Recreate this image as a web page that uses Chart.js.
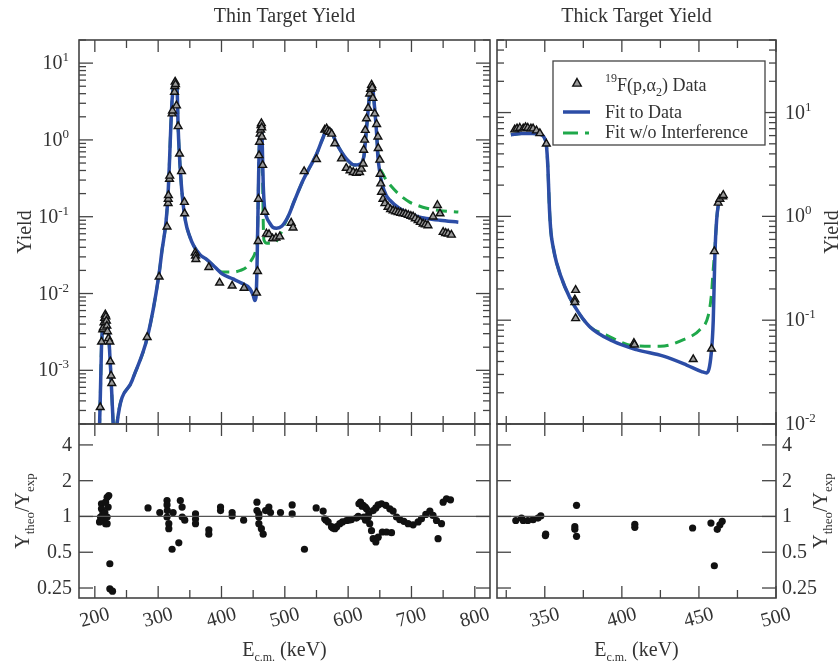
<!DOCTYPE html>
<html>
<head>
<meta charset="utf-8">
<script src="https://cdn.jsdelivr.net/npm/chart.js@4.4.1/dist/chart.umd.min.js"></script>
<style>
  body { margin: 0; background: #fff; }
  .wrap { position: relative; width: 839px; height: 666px; }
  canvas { position: absolute; left: 0; top: 0; }
</style>
</head>
<body>
<div class="wrap">
  <canvas id="thinYield" width="839" height="666"></canvas>
  <canvas id="thinRatio" width="839" height="666"></canvas>
  <canvas id="thickYield" width="839" height="666"></canvas>
  <canvas id="thickRatio" width="839" height="666"></canvas>
</div>
<script>
// ---- thin target: measured yield (triangles) ----
const thinDataE = [
  208.5, 210.6, 212.5, 213.5, 214.5, 215.5, 216.5, 217.5, 218.3, 219, 220, 221.5, 223.7, 224.5, 225.7, 226.8,
  282.6, 301.5, 314, 315.7, 315.9, 316.2, 317.9, 318.3, 322, 322.6, 325.8, 326.3, 326.8, 327.4, 328.9, 331.5, 333.7, 336.9, 341.5, 341.8,
  358.5, 359, 359.5, 380, 397, 416.8, 435.7, 455.3, 456.9, 457.9,
  458.3, 459.3, 460, 461, 461.8, 462.5, 463, 463.5, 463.8, 465, 468.4, 471, 475, 480.6, 486, 492, 510, 513,
  530.5, 550, 563, 566, 568, 571, 574, 579, 589.5, 597, 603, 608, 613, 618, 621,
  623.7, 624.5, 626, 627, 629, 631.6, 634, 635.5, 637, 638, 639, 642, 645, 647, 647.5, 650, 650.5, 651.5, 652.7, 655, 658,
  663, 667, 671, 675, 679, 683, 687, 691, 695, 699, 702.6, 706, 710.5, 714, 718.4, 722, 726, 734, 741, 745, 750, 754, 758, 763
];
const thinDataY = [
  3.3e-4, 2.35e-3, 3.4e-3, 3.6e-3, 4.2e-3, 4.8e-3, 5.3e-3, 5.0e-3, 4.4e-3, 3.8e-3, 3.2e-3, 2.6e-3, 2.35e-3, 1.3e-3, 8.5e-4, 6.8e-4,
  2.7e-3, 0.0165, 0.074, 0.15, 0.17, 0.19, 0.31, 0.34, 2.2, 2.4, 4.2, 5.0, 5.7, 5.3, 2.8, 1.5, 0.66, 0.39, 0.155, 0.11,
  0.034, 0.031, 0.028, 0.022, 0.0138, 0.0126, 0.0118, 0.0102, 0.0195, 0.048,
  0.17, 0.63, 0.94, 1.2, 1.35, 1.55, 1.64, 1.45, 1.1, 0.47, 0.115, 0.06, 0.059, 0.052, 0.053, 0.055, 0.083, 0.072,
  0.39, 0.56, 1.35, 1.4, 1.3, 1.27, 1.2, 0.9, 0.57, 0.43, 0.4, 0.38, 0.37, 0.38, 0.42,
  0.49, 0.74, 1.0, 1.34, 1.9, 2.6, 4.0, 4.6, 5.2, 4.8, 3.5, 2.2, 1.6, 1.1, 0.78, 0.55, 0.36, 0.27, 0.21, 0.17, 0.149,
  0.134, 0.125, 0.12, 0.117, 0.114, 0.112, 0.11, 0.108, 0.105, 0.102, 0.1, 0.095, 0.09, 0.085, 0.081, 0.079, 0.077, 0.1, 0.141, 0.11, 0.063, 0.061, 0.06, 0.058
];

// ---- thin target: fit to data (blue) ----
const thinFitE = [
  204, 207.5, 209, 210.5, 212.5, 215, 217, 219, 221, 223, 225, 227, 229, 231, 233, 235, 259, 283,
  301, 306, 312.6, 315.7, 318, 320, 322, 324.7, 326.3, 328, 330, 331.5, 334, 337.8, 343, 350, 356, 366, 376,
  390, 401, 418, 429, 445, 450, 452.6, 454.5, 456, 457.5, 459, 460.5, 462, 463.5, 464.5, 466, 468, 471, 476, 481, 487, 495,
  505, 515, 529, 540, 550, 560, 567, 572, 581.6, 597, 610,
  618, 625, 627, 629, 631.5, 634, 636.5, 638, 639.5, 642, 645, 647, 650, 653, 660, 666, 680, 692, 710, 723.6, 745, 774
];
const thinFitY = [
  1e-4, 2e-4, 6e-4, 2e-3, 3.8e-3, 5e-3, 5.5e-3, 5e-3, 3.6e-3, 2e-3, 1e-3, 4.5e-4, 2e-4, 1e-4, 1.2e-4, 2e-4, 7.4e-4, 2.7e-3,
  0.017, 0.036, 0.089, 0.2, 0.55, 1.5, 3.3, 5.4, 5.9, 5.5, 4.4, 1.5, 0.55, 0.2, 0.089, 0.055, 0.042, 0.032, 0.028,
  0.022, 0.018, 0.0155, 0.014, 0.0115, 0.0095, 0.0081, 0.009, 0.02, 0.1, 0.5, 1.2, 1.6, 1.5, 0.8, 0.25, 0.13, 0.1, 0.083, 0.073, 0.071, 0.075,
  0.1, 0.16, 0.3, 0.45, 0.65, 1.05, 1.4, 1.35, 0.9, 0.57, 0.47,
  0.48, 0.62, 0.9, 1.4, 2.4, 4.0, 5.1, 5.0, 4.2, 2.5, 1.2, 0.6, 0.38, 0.28, 0.19, 0.164, 0.13, 0.114, 0.1, 0.095, 0.09, 0.085
];

// ---- thin target: fit without interference (green) ----
const thinNoIntE = [
  204, 207.5, 209, 210.5, 212.5, 215, 217, 219, 221, 223, 225, 227, 229, 231, 233, 235, 259, 283,
  301, 306, 312.6, 315.7, 318, 320, 322, 324.7, 326.3, 328, 330, 331.5, 334, 337.8, 343, 350, 356, 366, 376,
  390, 401, 418, 430, 439.5, 447, 454, 456.5, 457.5, 459, 460.5, 462, 463.5, 464.5, 466, 467, 472, 480, 490, 495,
  505, 515, 529, 540, 550, 560, 567, 572, 581.6, 597, 610,
  618, 625, 627, 629, 631.5, 634, 636.5, 638, 639.5, 642, 645, 647, 650, 655, 660, 666, 679, 697, 710, 724, 745, 774
];
const thinNoIntY = [
  1e-4, 2e-4, 6e-4, 2e-3, 3.8e-3, 5e-3, 5.5e-3, 5e-3, 3.6e-3, 2e-3, 1e-3, 4.5e-4, 2e-4, 1e-4, 1.3e-4, 2.1e-4, 7.4e-4, 2.7e-3,
  0.017, 0.036, 0.089, 0.2, 0.55, 1.5, 3.3, 5.4, 5.9, 5.5, 4.4, 1.5, 0.55, 0.2, 0.089, 0.055, 0.042, 0.032, 0.028,
  0.022, 0.019, 0.019, 0.02, 0.022, 0.027, 0.036, 0.05, 0.1, 0.5, 1.2, 1.6, 1.5, 0.6, 0.08, 0.05, 0.045, 0.045, 0.052, 0.065,
  0.1, 0.16, 0.3, 0.45, 0.65, 1.05, 1.4, 1.35, 0.9, 0.57, 0.47,
  0.48, 0.62, 0.9, 1.4, 2.4, 4.0, 5.1, 5.0, 4.2, 2.5, 1.2, 0.7, 0.45, 0.36, 0.3, 0.26, 0.2, 0.155, 0.14, 0.129, 0.12, 0.115
];

// ---- thin target: Y_theo / Y_exp ----
const thinRatioE = [
  207.4, 209, 210.5, 210.5, 212.6, 214, 215.8, 217, 217, 219.4,
  219.4, 219.4, 221, 222, 223.7, 223.7, 227.9,
  284, 302.6, 314, 314, 314.5, 314, 316.8, 316.8, 322, 323.6,
  332.6, 335, 337.8, 338, 342, 359, 359, 359, 380, 380,
  398.5, 398.5, 416.8, 416.8, 435, 456, 456, 459, 459, 459,
  463, 465.8, 469.6, 474.8, 477.4, 493.2, 511.6, 511.6, 531, 549.5,
  560.5, 563, 565, 568.4, 573.7, 576, 579, 582, 586.8, 591,
  597.4, 601, 605, 613, 616, 619.5, 623.7, 627, 629, 631.6,
  632.5, 634, 636.9, 639.5, 643.7, 647.4, 654, 660.6, 668.5, 639.5,
  643.7, 647.4, 652.7, 659.5, 665.8, 671, 676.4, 681.6, 688, 694.7,
  702.6, 710.5, 715.8, 722.6, 729, 734, 739.5, 742, 747.4, 750,
  755.3, 761.6,
  617, 622, 625, 627.4
];
const thinRatioR = [
  0.9, 0.99, 1.28, 1.16, 1.05, 0.93, 1.08, 1.32, 0.87, 1.45,
  0.99, 0.87, 1.2, 1.5, 0.4, 0.246, 0.235,
  1.18, 1.08, 1.36, 1.25, 1.12, 0.99, 0.87, 0.79, 0.53, 1.08,
  0.6, 1.36, 1.2, 0.99, 0.93, 1.05, 0.95, 0.87, 0.77, 0.71,
  1.2, 1.12, 1.08, 1.01, 0.93, 1.32, 1.12, 1.05, 0.99, 0.87,
  0.79, 0.71, 1.12, 1.2, 1.08, 1.08, 1.25, 1.05, 0.53, 1.18,
  1.11, 0.956, 0.93, 0.9, 0.82, 0.8, 0.79, 0.82, 0.87, 0.9,
  0.925, 0.93, 0.94, 0.97, 1.0, 1.32, 1.24, 1.2, 1.16, 0.99,
  1.05, 0.87, 0.76, 0.65, 0.61, 0.67, 0.74, 0.74, 0.73, 1.12,
  1.18, 1.25, 1.28, 1.24, 1.16, 1.11, 0.99, 0.94, 0.91, 0.87,
  0.85, 0.9, 0.956, 1.04, 1.11, 1.02, 0.925, 0.65, 0.87, 1.32,
  1.41, 1.38,
  1.28, 1.22, 0.99, 0.93
];

// ---- thick target ----
const thickDataE = [330.5, 332, 333.8, 336, 337.5, 339, 341, 342.4, 344.6, 346.8, 351,
  369.5, 369.5, 370, 370, 407.8, 408.2, 446.3, 458.2, 460, 462.5, 463.6, 465.4, 465.8];
const thickDataY = [6.85, 7.0, 7.1, 7.0, 7.2, 7.1, 7.0, 7.0, 6.7, 6.3, 5.0,
  0.158, 0.149, 0.195, 0.104, 0.06, 0.058, 0.042, 0.053, 0.46, 1.35, 1.47, 1.55, 1.6];

const thickFitE = [328, 335, 342, 348, 350, 351, 352, 353, 354, 355.5, 357.6, 363, 369.5, 379,
  394, 409.5, 427, 442, 451.7, 455, 458, 459.3, 460.4, 461.5, 462.5, 463.6, 467];
const thickFitY = [6.1, 6.3, 6.3, 6.1, 5.6, 4.9, 3.0, 1.2, 0.7, 0.5, 0.36, 0.21, 0.135, 0.087,
  0.063, 0.052, 0.045, 0.037, 0.032, 0.031, 0.048, 0.1, 0.45, 0.93, 1.26, 1.45, 1.55];

const thickNoIntE = [328, 335, 342, 348, 350, 351, 352, 353, 354, 355.5, 357.6, 363, 369.5, 379,
  390, 407, 425, 440, 450.6, 456, 458, 459.3, 460.4, 461.5, 462.5, 463.6, 467];
const thickNoIntY = [6.1, 6.3, 6.3, 6.1, 5.6, 4.9, 3.0, 1.2, 0.7, 0.5, 0.36, 0.21, 0.135, 0.087,
  0.072, 0.057, 0.056, 0.065, 0.081, 0.11, 0.17, 0.31, 0.5, 0.93, 1.26, 1.45, 1.55];

const thickRatioE = [331.2, 334.9, 336, 339, 342.4, 345.6, 347.4, 350.4, 350.6, 370.6, 369.5,
  369.5, 370.6, 408.4, 408.4, 445.9, 457.8, 460, 461.9, 463.6, 465.1];
const thickRatioR = [0.925, 0.97, 0.925, 0.925, 0.94, 0.97, 1.01, 0.69, 0.71, 1.24, 0.82,
  0.78, 0.68, 0.86, 0.81, 0.80, 0.88, 0.385, 0.78, 0.85, 0.91];

// ---- axis ticks ----
const thinTicks = [200, 300, 400, 500, 600, 700, 800];
const thinMinor = [250, 350, 450, 550, 650, 750];
const thickTicks = [350, 400, 450, 500];
const thickMinor = [325, 375, 425, 475];
const thinDecades = [1e-4, 1e-3, 1e-2, 1e-1, 1, 10];
const thickDecades = [1e-2, 1e-1, 1, 10];
const ratioTicks = [0.25, 0.5, 1, 2, 4];

const W = 839, H = 666;
const FONT = '"Liberation Serif", "Times New Roman", "DejaVu Serif", serif';
const INK = '#333';
const BLUE = '#2c4da6';
const GREEN = '#1fa84a';

const pts = (xs, ys) => xs.map((x, i) => ({ x: x, y: ys[i] }));
const minorOf = decs => decs.flatMap(d => [2, 3, 4, 5, 6, 7, 8, 9].map(m => d * m));

// draw a run of text pieces: [text, size, dy]
function drawRuns(ctx, runs, x, y, align) {
  let total = 0;
  runs.forEach(r => { ctx.font = r[1] + 'px ' + FONT; total += ctx.measureText(r[0]).width; });
  let cx = align === 'right' ? x - total : align === 'center' ? x - total / 2 : x;
  ctx.textAlign = 'left';
  ctx.textBaseline = 'alphabetic';
  runs.forEach(r => {
    ctx.font = r[1] + 'px ' + FONT;
    ctx.fillText(r[0], cx, y + (r[2] || 0));
    cx += ctx.measureText(r[0]).width;
  });
}

function drawTri(ctx, x, y, r) {
  ctx.beginPath();
  ctx.moveTo(x, y - r);
  ctx.lineTo(x + r * 0.95, y + r * 0.7);
  ctx.lineTo(x - r * 0.95, y + r * 0.7);
  ctx.closePath();
  ctx.fillStyle = '#9a9a9a';
  ctx.fill();
  ctx.strokeStyle = '#111';
  ctx.lineWidth = 1.4;
  ctx.stroke();
}

// frame, inward ticks, labels and legend
const frame = {
  id: 'frame',
  afterDatasetsDraw(chart, args, o) {
    const ctx = chart.ctx, a = chart.chartArea;
    const xs = chart.scales.x, ys = chart.scales.y;
    const seg = (x1, y1, x2, y2) => { ctx.beginPath(); ctx.moveTo(x1, y1); ctx.lineTo(x2, y2); ctx.stroke(); };
    const inX = v => v >= xs.min && v <= xs.max;
    const inY = v => v >= ys.min && v <= ys.max;
    ctx.save();

    if (o.refLine) {
      const py = ys.getPixelForValue(o.refLine);
      ctx.strokeStyle = '#555';
      ctx.lineWidth = 1.2;
      seg(a.left, py, a.right, py);
    }

    ctx.strokeStyle = '#444';
    ctx.lineWidth = 1.3;
    o.xMajor.filter(inX).forEach(v => { const p = xs.getPixelForValue(v); seg(p, a.bottom, p, a.bottom - 12); seg(p, a.top, p, a.top + 12); });
    o.xMinor.filter(inX).forEach(v => { const p = xs.getPixelForValue(v); seg(p, a.bottom, p, a.bottom - 8); seg(p, a.top, p, a.top + 8); });
    o.yMajor.filter(inY).forEach(v => { const p = ys.getPixelForValue(v); seg(a.left, p, a.left + 14, p); seg(a.right, p, a.right - 14, p); });
    o.yMinor.filter(inY).forEach(v => { const p = ys.getPixelForValue(v); seg(a.left, p, a.left + 7, p); seg(a.right, p, a.right - 7, p); });

    ctx.strokeStyle = '#444';
    ctx.lineWidth = 1.6;
    ctx.strokeRect(a.left, a.top, a.width, a.height);

    ctx.fillStyle = INK;
    if (o.title) {
      drawRuns(ctx, [[o.title, 20]], (a.left + a.right) / 2, 22, 'center');
    }

    // y tick labels
    const side = o.ySide;
    o.yMajor.filter(inY).forEach(v => {
      const p = ys.getPixelForValue(v);
      const runs = o.pow
        ? [['10', 20], [String(Math.round(Math.log10(v))), 13, -8]]
        : [[String(v), 20]];
      if (side === 'left') drawRuns(ctx, runs, a.left - o.yGap, p + 6, 'right');
      else drawRuns(ctx, runs, a.right + o.yGap, p + 6, 'left');
    });

    // y title, rotated, reads bottom to top
    if (o.yTitle) {
      ctx.save();
      ctx.translate(o.yTitle.x, (a.top + a.bottom) / 2);
      ctx.rotate(-Math.PI / 2);
      drawRuns(ctx, o.yTitle.runs, 0, 0, 'center');
      ctx.restore();
    }

    // x tick labels, slanted
    if (o.xLabels) {
      o.xMajor.filter(inX).forEach(v => {
        const p = xs.getPixelForValue(v);
        ctx.save();
        ctx.translate(p, a.bottom + 20);
        ctx.rotate(-15 * Math.PI / 180);
        ctx.font = '20px ' + FONT;
        ctx.textAlign = 'center';
        ctx.textBaseline = 'middle';
        ctx.fillText(String(v), 0, 0);
        ctx.restore();
      });
      drawRuns(ctx, [['E', 20], ['c.m.', 12, 5], [' (keV)', 20]], (a.left + a.right) / 2, 656, 'center');
    }

    if (o.legend) {
      const L = o.legend;
      ctx.fillStyle = '#fff';
      ctx.fillRect(L.x, L.y, L.w, L.h);
      ctx.strokeStyle = '#444';
      ctx.lineWidth = 1.3;
      ctx.strokeRect(L.x, L.y, L.w, L.h);
      drawTri(ctx, L.x + 24, L.y + 22, 4.5);
      ctx.fillStyle = INK;
      drawRuns(ctx, [['19', 12, -9], ['F(p,α', 18], ['2', 12, 5], [') Data', 18]], L.x + 52, L.y + 30, 'left');
      ctx.strokeStyle = BLUE;
      ctx.lineWidth = 3.5;
      seg(L.x + 10, L.y + 51, L.x + 37, L.y + 51);
      ctx.fillStyle = INK;
      drawRuns(ctx, [['Fit to Data', 18]], L.x + 52, L.y + 57, 'left');
      ctx.strokeStyle = GREEN;
      ctx.lineWidth = 3;
      seg(L.x + 10, L.y + 72, L.x + 25, L.y + 72);
      seg(L.x + 32, L.y + 72, L.x + 36, L.y + 72);
      drawRuns(ctx, [['Fit w/o Interference', 18]], L.x + 52, L.y + 77, 'left');
    }
    ctx.restore();
  }
};

function panel(id, box, xr, yr, datasets, deco) {
  return new Chart(document.getElementById(id), {
    type: 'scatter',
    data: { datasets: datasets },
    options: {
      responsive: false,
      animation: false,
      events: [],
      layout: { padding: { left: box[0], top: box[1], right: W - box[2], bottom: H - box[3] } },
      scales: {
        x: { type: 'linear', display: false, min: xr[0], max: xr[1] },
        y: { type: yr[2], display: false, min: yr[0], max: yr[1] }
      },
      plugins: { legend: { display: false }, tooltip: { enabled: false }, frame: deco }
    },
    plugins: [frame]
  });
}

const dataStyle = { pointStyle: 'triangle', pointRadius: 4.5, backgroundColor: '#9a9a9a', borderColor: '#111', borderWidth: 1.4, clip: 0 };
const fitStyle = { showLine: true, pointRadius: 0, borderColor: BLUE, borderWidth: 3.5, cubicInterpolationMode: 'monotone', clip: 0 };
const noIntStyle = Object.assign({}, fitStyle, { borderColor: GREEN, borderWidth: 3, borderDash: [11, 7] });
const ratioStyle = { pointStyle: 'circle', pointRadius: 3.6, backgroundColor: '#111', borderWidth: 0, clip: 0 };

const yieldRuns = [['Yield', 20]];
const ratioRuns = [['Y', 20], ['theo', 13, 5], ['/Y', 20], ['exp', 13, 5]];

panel('thinYield', [79, 40, 490, 424], [175, 824], [2e-4, 20, 'logarithmic'], [
  Object.assign({ label: '19F(p,a2) Data', data: pts(thinDataE, thinDataY) }, dataStyle),
  Object.assign({ label: 'Fit to Data', data: pts(thinFitE, thinFitY) }, fitStyle),
  Object.assign({ label: 'Fit w/o Interference', data: pts(thinNoIntE, thinNoIntY) }, noIntStyle)
], {
  title: 'Thin Target Yield', xMajor: thinTicks, xMinor: thinMinor,
  yMajor: thinDecades, yMinor: minorOf(thinDecades), pow: true, ySide: 'left', yGap: 10,
  yTitle: { x: 31, runs: yieldRuns }
});

panel('thinRatio', [79, 424, 490, 598], [175, 824], [0.206, 6.0, 'logarithmic'], [
  Object.assign({ label: 'ratio', data: pts(thinRatioE, thinRatioR) }, ratioStyle)
], {
  xMajor: thinTicks, xMinor: thinMinor, yMajor: ratioTicks, yMinor: [], refLine: 1,
  ySide: 'left', yGap: 7, xLabels: true, yTitle: { x: 29, runs: ratioRuns }
});

panel('thickYield', [497, 40, 776, 424], [319, 500], [0.01, 50, 'logarithmic'], [
  Object.assign({ label: '19F(p,a2) Data', data: pts(thickDataE, thickDataY) }, dataStyle),
  Object.assign({ label: 'Fit to Data', data: pts(thickFitE, thickFitY) }, fitStyle),
  Object.assign({ label: 'Fit w/o Interference', data: pts(thickNoIntE, thickNoIntY) }, noIntStyle)
], {
  title: 'Thick Target Yield', xMajor: thickTicks, xMinor: thickMinor,
  yMajor: thickDecades, yMinor: minorOf(thickDecades), pow: true, ySide: 'right', yGap: 9,
  yTitle: { x: 838, runs: yieldRuns },
  legend: { x: 553, y: 61, w: 212, h: 84 }
});

panel('thickRatio', [497, 424, 776, 598], [319, 500], [0.206, 6.0, 'logarithmic'], [
  Object.assign({ label: 'ratio', data: pts(thickRatioE, thickRatioR) }, ratioStyle)
], {
  xMajor: thickTicks, xMinor: thickMinor, yMajor: ratioTicks, yMinor: [], refLine: 1,
  ySide: 'right', yGap: 6, xLabels: true, yTitle: { x: 827, runs: ratioRuns }
});
</script>
</body>
</html>
